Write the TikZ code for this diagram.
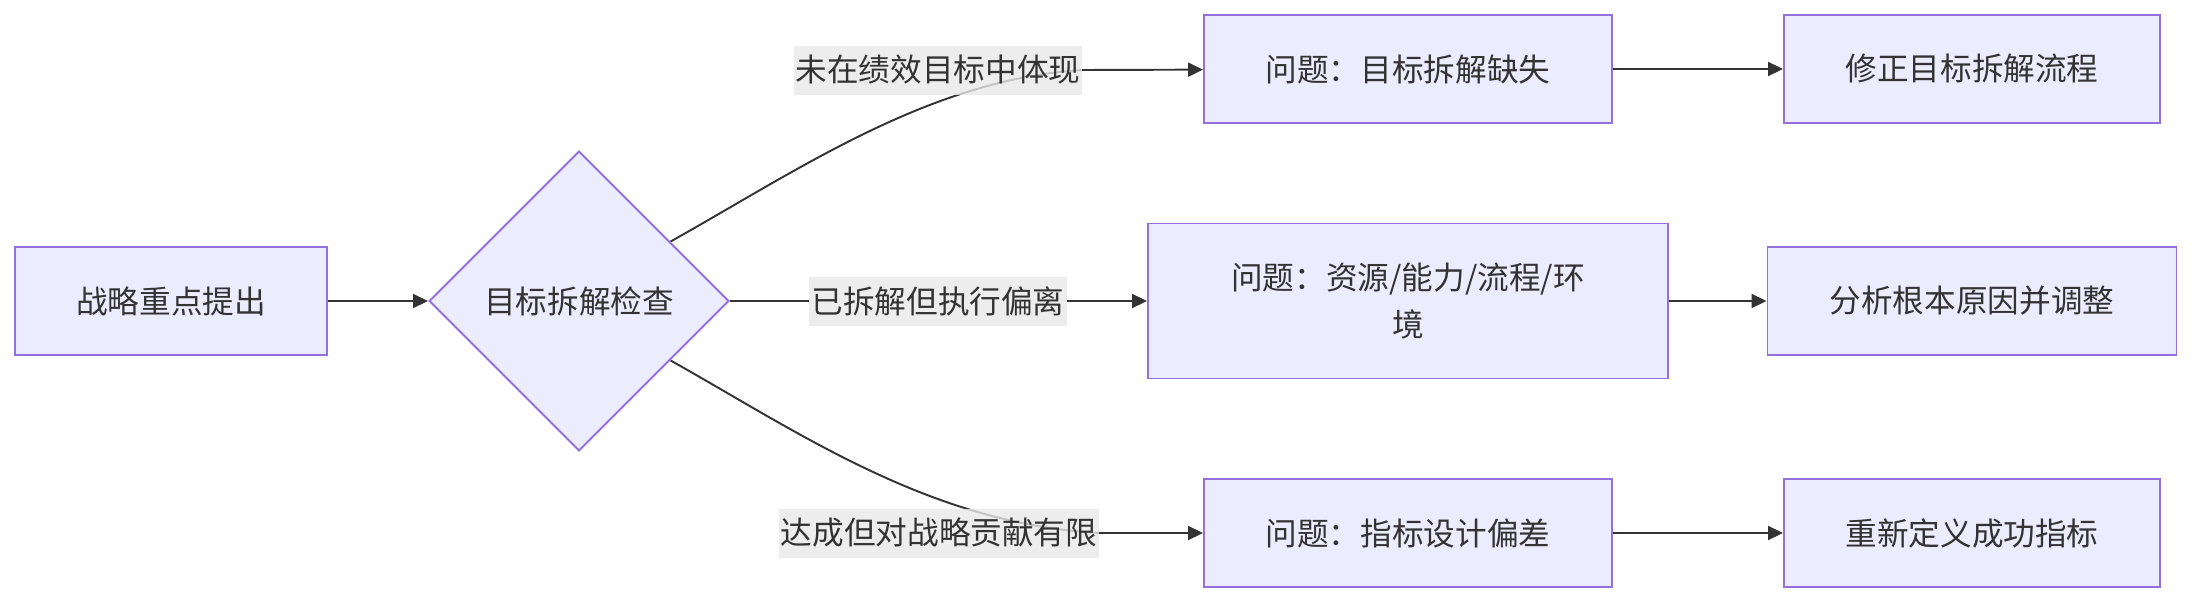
\documentclass[tikz,border=0pt]{standalone}
\usepackage{fontspec}
\setmainfont{Noto Sans CJK SC}
\usepackage{tikz}
\usepackage{xcolor}
\usetikzlibrary{shapes.geometric, arrows.meta, positioning, backgrounds}
\definecolor{MM_Fill}{HTML}{ECECFF}
\definecolor{MM_Border}{HTML}{9370DB}
\definecolor{MM_Line}{HTML}{333333}
\definecolor{MM_Label}{HTML}{E8E8E8}

\begin{document}
\begin{tikzpicture}[
    >={Triangle[length=0.3cm, width=0.28cm]},
    box/.style={
        rectangle,
        fill=MM_Fill,
        draw=MM_Border,
        line width=1.1pt,
        text=MM_Line,
        minimum width=8.16cm,
        minimum height=2.16cm,
        font=\fontsize{18}{27}\selectfont
    },
    check/.style={
        diamond,
        fill=MM_Fill,
        draw=MM_Border,
        line width=1.1pt,
        text=MM_Line,
        minimum size=6cm,
        inner sep=0pt,
        font=\fontsize{18}{27}\selectfont
    },
    flow/.style={draw=MM_Line, line width=1.1pt, ->},
    cond/.style={fill=MM_Label, fill opacity=0.8, text opacity=1, text=MM_Line,
        inner xsep=0.04cm, inner ysep=0pt, minimum height=0.98cm,
        font=\fontsize{18}{27}\selectfont}
]
\useasboundingbox (0,0) rectangle (43.84,12.08);

\node[box, minimum width=6.24cm] (Start) at (3.42, 6.06) {战略重点提出};
\node[check] (Check) at (11.58, 6.06) {目标拆解检查};

\node[cond] (C1) at (18.76, 10.68) {未在绩效目标中体现};
\node[cond] (C2) at (18.76, 6.06) {已拆解但执行偏离};
\node[cond] (C3) at (18.78, 1.42) {达成但对战略贡献有限};

\node[box] (P1) at (28.16, 10.70) {问题：目标拆解缺失};
\node[box, minimum width=10.4cm, minimum height=3.1cm, align=center] (P2) at (28.16, 6.06) {问题：资源/能力/流程/环\\境};
\node[box] (P3) at (28.16, 1.42) {问题：指标设计偏差};

\node[box, minimum width=7.52cm] (F1) at (39.44, 10.70) {修正目标拆解流程};
\node[box, minimum width=8.18cm] (F2) at (39.44, 6.06) {分析根本原因并调整};
\node[box, minimum width=7.52cm] (F3) at (39.44, 1.42) {重新定义成功指标};

\begin{pgfonlayer}{background}
\draw[flow] (Start) -- (Check);
\draw[flow] (Check.33) .. controls (16, 8.7) and (18.6, 10.5) .. (C1.east) -- (P1);
\draw[flow] (Check) -- (C2) -- (P2);
\draw[flow] (Check.-33) .. controls (16, 3.42) and (18.6, 1.6) .. (C3.east) -- (P3);
\end{pgfonlayer}

\draw[flow] (P1) -- (F1);
\draw[flow] (P2) -- (F2);
\draw[flow] (P3) -- (F3);
\end{tikzpicture}
\end{document}
